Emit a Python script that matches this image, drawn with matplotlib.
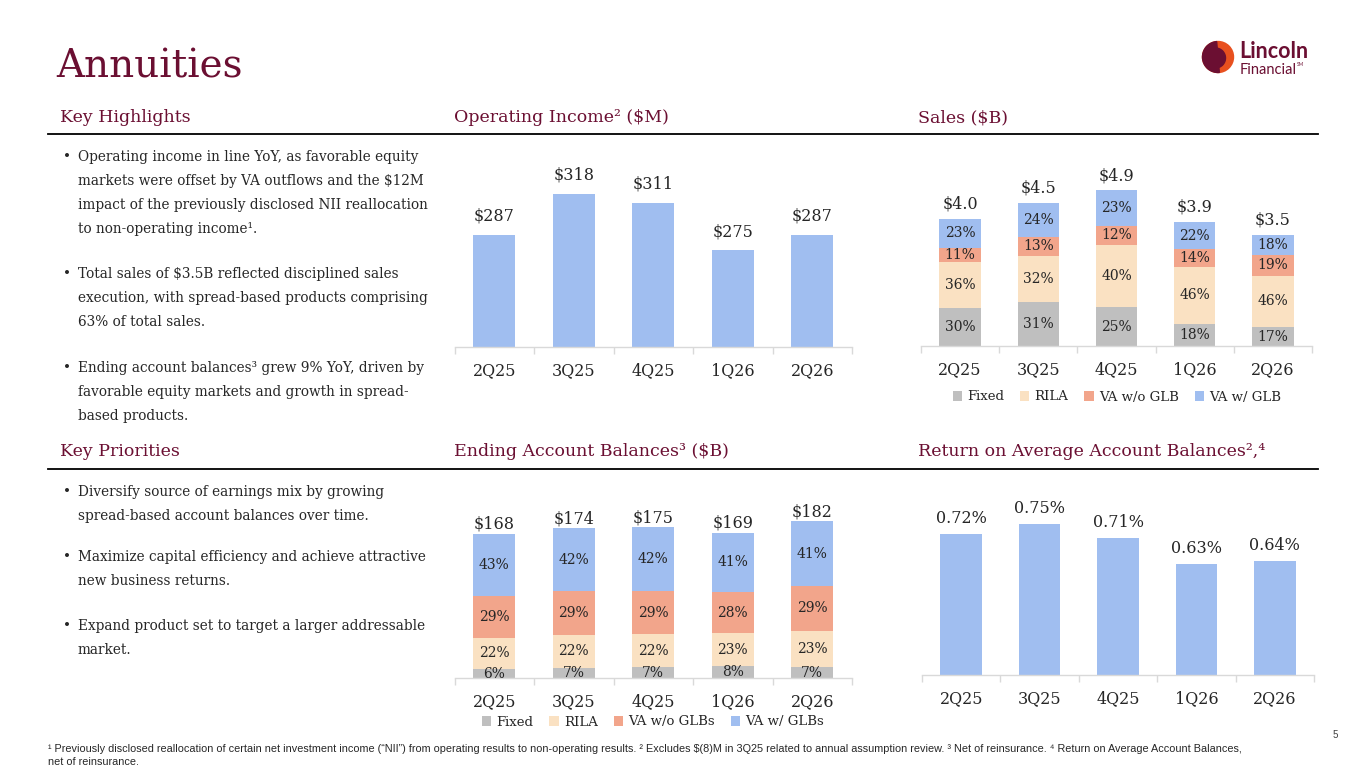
import matplotlib
matplotlib.use("Agg")
import matplotlib.pyplot as plt
from matplotlib.patches import Circle, Wedge
from matplotlib.lines import Line2D
import numpy as np

plt.rcParams['text.parse_math'] = False
SERIF = ['DejaVu Serif']
plt.rcParams['font.family'] = SERIF

# ---------------- data ----------------
quarters = ["2Q25", "3Q25", "4Q25", "1Q26", "2Q26"]
op_income = [287, 318, 311, 275, 287]
sales_total = [4.0, 4.5, 4.9, 3.9, 3.5]
sales_fixed = [30, 31, 25, 18, 17]
sales_rila = [36, 32, 40, 46, 46]
sales_va_noglb = [11, 13, 12, 14, 19]
sales_va_glb = [23, 24, 23, 22, 18]
sales_series = ["Fixed", "RILA", "VA w/o GLB", "VA w/ GLB"]
bal_total = [168, 174, 175, 169, 182]
bal_fixed = [6, 7, 7, 8, 7]
bal_rila = [22, 22, 22, 23, 23]
bal_va_noglb = [29, 29, 29, 28, 29]
bal_va_glb = [43, 42, 42, 41, 41]
bal_series = ["Fixed", "RILA", "VA w/o GLBs", "VA w/ GLBs"]
roa = [0.72, 0.75, 0.71, 0.63, 0.64]

highlights = [
    ["Operating income in line YoY, as favorable equity",
     "markets were offset by VA outflows and the $12M",
     "impact of the previously disclosed NII reallocation",
     "to non-operating income\u00b9."],
    ["Total sales of $3.5B reflected disciplined sales",
     "execution, with spread-based products comprising",
     "63% of total sales."],
    ["Ending account balances\u00b3 grew 9% YoY, driven by",
     "favorable equity markets and growth in spread-",
     "based products."],
]
priorities = [
    ["Diversify source of earnings mix by growing",
     "spread-based account balances over time."],
    ["Maximize capital efficiency and achieve attractive",
     "new business returns."],
    ["Expand product set to target a larger addressable",
     "market."],
]
footnote = ["\u00b9 Previously disclosed reallocation of certain net investment income (\u201cNII\u201d) from operating results to non-operating results. \u00b2 Excludes $(8)M in 3Q25 related to annual assumption review. \u00b3 Net of reinsurance. \u2074 Return on Average Account Balances,",
            "net of reinsurance."]

# ---------------- style ----------------
W, H = 1365, 768
MAROON = "#6B0F32"
BLUE = "#A0BEF0"
GRAY = "#BFBFBF"
BEIGE = "#FAE1C2"
SALMON = "#F2A58B"
SEG_COLORS = [GRAY, BEIGE, SALMON, BLUE]
TXT = "#262626"
AXC = "#D9D9D9"

fig = plt.figure(figsize=(W / 100, H / 100), dpi=100)
fig.patch.set_facecolor("white")


def fx(x):
    return x / W


def fy(y):
    return 1 - y / H


def add_ax(left, right, bottom, top):
    return fig.add_axes([fx(left), fy(bottom), fx(right) - fx(left), (bottom - top) / H])


def style_ax(ax):
    x = np.arange(len(quarters))
    ax.set_xlim(-0.5, len(quarters) - 0.5)
    ax.set_xticks(x)
    ax.set_xticklabels(quarters, fontsize=11.5, color=TXT)
    ax.set_xticks(np.arange(-0.5, len(quarters), 1.0), minor=True)
    ax.tick_params(axis="x", which="major", length=0, pad=11)
    ax.tick_params(axis="x", which="minor", length=5, color=AXC, width=1)
    ax.set_yticks([])
    for s in ["top", "right", "left"]:
        ax.spines[s].set_visible(False)
    ax.spines["bottom"].set_color(AXC)
    ax.spines["bottom"].set_linewidth(1)
    ax.patch.set_alpha(0)


# ---------------- title / headers ----------------
fig.text(fx(56), fy(77), "Annuities", fontsize=28, color=MAROON, va="baseline", ha="left")

headers = [(60, 118, "Key Highlights"), (454, 118, "Operating Income\u00b2 ($M)"), (918, 118, "Sales ($B)"),
           (60, 451, "Key Priorities"), (454, 451, "Ending Account Balances\u00b3 ($B)"),
           (918, 451, "Return on Average Account Balances\u00b2,\u2074")]
for x, y, t in headers:
    fig.text(fx(x), fy(y), t, fontsize=12.5, color=MAROON, va="center", ha="left")

for y in (134, 469):
    fig.add_artist(Line2D([fx(48), fx(1318)], [fy(y), fy(y)], color="black", lw=1.3))

# ---------------- bullets ----------------
def bullets(blocks, starts):
    for lines, y0 in zip(blocks, starts):
        fig.text(fx(63), fy(y0), "\u2022", fontsize=9.8, color=TXT, va="center", ha="left")
        for i, ln in enumerate(lines):
            fig.text(fx(78), fy(y0 + 24 * i), ln, fontsize=9.8, color=TXT, va="center", ha="left")


bullets(highlights, [157, 274, 368])
bullets(priorities, [492, 557, 626])

x = np.arange(len(quarters))
BW = 0.53

# ---------------- operating income ----------------
ax1 = add_ax(454.5, 852, 347, 150)
ax1.bar(x, op_income, width=BW, color=BLUE)
ax1.set_ylim(202, 351)
style_ax(ax1)
for xi, v in zip(x, op_income):
    ax1.annotate(f"${v}", (xi, v), xytext=(0, 13.5), textcoords="offset points",
                 ha="center", va="center", fontsize=11.5, color=TXT)

# ---------------- sales ----------------
ax2 = add_ax(921, 1312, 346, 150)
bottom = np.zeros(len(quarters))
handles = []
for pcts, col, name in zip([sales_fixed, sales_rila, sales_va_noglb, sales_va_glb], SEG_COLORS, sales_series):
    vals = np.array(sales_total) * np.array(pcts) / 100.0
    b = ax2.bar(x, vals, width=BW, bottom=bottom, color=col, label=name)
    handles.append(b)
    for xi, bt, v, p in zip(x, bottom, vals, pcts):
        ax2.text(xi, bt + v / 2, f"{p}%", ha="center", va="center", fontsize=10, color=TXT)
    bottom += vals
ax2.set_ylim(0, 6.16)
style_ax(ax2)
for xi, v in zip(x, sales_total):
    ax2.annotate(f"${v:.1f}", (xi, v), xytext=(0, 10.5), textcoords="offset points",
                 ha="center", va="center", fontsize=11.5, color=TXT)
fig.legend(handles=handles, loc="center", bbox_to_anchor=(fx(1117), fy(397)), ncol=4, frameon=False,
           fontsize=9.5, handlelength=0.7, handleheight=0.7, handletextpad=0.4, columnspacing=1.2,
           labelcolor=TXT)

# ---------------- ending account balances ----------------
ax3 = add_ax(454.5, 852, 678, 490)
bottom = np.zeros(len(quarters))
handles = []
for pcts, col, name in zip([bal_fixed, bal_rila, bal_va_noglb, bal_va_glb], SEG_COLORS, bal_series):
    vals = np.array(bal_total) * np.array(pcts) / 100.0
    b = ax3.bar(x, vals, width=BW, bottom=bottom, color=col, label=name)
    handles.append(b)
    for xi, bt, v, p in zip(x, bottom, vals, pcts):
        ax3.text(xi, bt + v / 2, f"{p}%", ha="center", va="center", fontsize=10, color=TXT)
    bottom += vals
ax3.set_ylim(0, 218.6)
style_ax(ax3)
for xi, v in zip(x, bal_total):
    ax3.annotate(f"${v}", (xi, v), xytext=(0, 7), textcoords="offset points",
                 ha="center", va="center", fontsize=11.5, color=TXT)
fig.legend(handles=handles, loc="center", bbox_to_anchor=(fx(653), fy(722)), ncol=4, frameon=False,
           fontsize=9.5, handlelength=0.7, handleheight=0.7, handletextpad=0.4, columnspacing=1.2,
           labelcolor=TXT)

# ---------------- return on average account balances ----------------
ax4 = add_ax(922, 1314, 675, 490)
ax4.bar(x, roa, width=BW, color=BLUE)
ax4.set_ylim(0.297, 0.853)
style_ax(ax4)
for xi, v in zip(x, roa):
    ax4.annotate(f"{v:.2f}%", (xi, v), xytext=(0, 11), textcoords="offset points",
                 ha="center", va="center", fontsize=11.5, color=TXT)

# ---------------- logo ----------------
lax = fig.add_axes([fx(1200), fy(75), fx(36), 36 / H])
lax.set_xlim(0, 36)
lax.set_ylim(0, 36)
lax.set_aspect("equal")
lax.axis("off")
lax.add_patch(Circle((18, 18), 15.5, color="#E8501E"))
lax.add_patch(Wedge((18, 18), 15.5, 95, 275, color=MAROON))
lax.add_patch(Circle((15.5, 17), 10, color=MAROON))
fig.text(fx(1239), fy(52), "Lincoln", fontsize=15.5, fontweight="bold", color=MAROON,
         family=["Lato", "DejaVu Sans"], va="center", ha="left")
fig.text(fx(1240), fy(70), "Financial", fontsize=10.5, color=MAROON,
         family=["Lato", "DejaVu Sans"], va="center", ha="left")
fig.text(fx(1297), fy(65), "SM", fontsize=3.5, color=MAROON,
         family=["Lato", "DejaVu Sans"], va="center", ha="left")

# ---------------- footer ----------------
FOOT = ["Liberation Sans Narrow", "Liberation Sans", "DejaVu Sans"]
fig.text(fx(1338), fy(735), "5", fontsize=7, color="#404040", family=FOOT, va="center", ha="right")
fig.text(fx(48), fy(749), footnote[0], fontsize=7.8, color="#262626", family=FOOT, va="center", ha="left")
fig.text(fx(48), fy(762), footnote[1], fontsize=7.8, color="#262626", family=FOOT, va="center", ha="left")

fig.savefig("out.png", dpi=100, facecolor="white")
